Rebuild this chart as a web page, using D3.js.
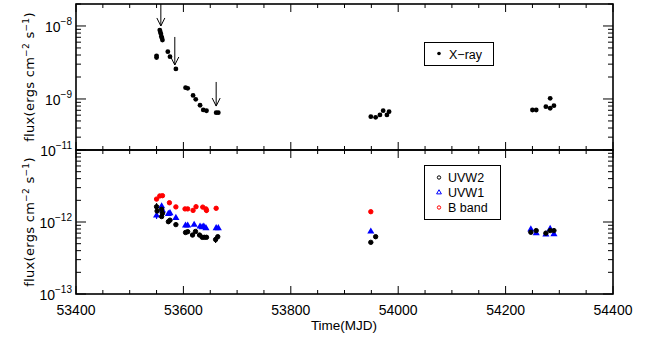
<!DOCTYPE html>
<html><head><meta charset="utf-8">
<script src="https://cdn.jsdelivr.net/npm/d3@7"></script>
<style>body{margin:0;background:#fff}svg{display:block}text{font-family:"Liberation Sans",Arial,sans-serif;fill:#000}</style>
</head><body><svg id="c" width="647" height="337"></svg>
<script>
// ---- data ----
const xTicks = [53400, 53600, 53800, 54000, 54200, 54400];
const xray = [
  [53556,8.8e-9],[53557,8.3e-9],[53558,7.8e-9],[53559,7.2e-9],[53560,6.85e-9],[53561,6.4e-9],
  [53550,3.9e-9],[53550,3.7e-9],[53571,4.45e-9],[53575,3.8e-9],[53586,2.58e-9],
  [53604,1.43e-9],[53608,1.40e-9],[53618,1.12e-9],[53623,9.9e-10],[53631,8.2e-10],
  [53637,7.07e-10],[53643,6.9e-10],[53661,6.5e-10],[53665,6.5e-10],
  [53949,5.73e-10],[53958,5.61e-10],[53966,6.04e-10],[53972,6.92e-10],[53979,6.04e-10],[53983,6.70e-10],
  [54250,7.06e-10],[54257,7.06e-10],[54275,7.85e-10],[54283,1.02e-9],[54283,7.46e-10],[54290,8.09e-10]
];
// [MJD, flux from, flux to] for the downward arrows
const arrows = [[53558,2e-8,1.0e-8],[53584,7.07e-9,2.92e-9],[53661,1.71e-9,8.0e-10]];
// [MJD, flux, error]
const uvw2 = [
  [53550,1.63e-12,0.2e-12],[53551,1.42e-12,0],[53559.5,1.50e-12,0],[53561,1.32e-12,0.1e-12],[53559.5,1.19e-12,0],
  [53572,1.01e-12,0],[53575,1.06e-12,0],[53586,9.2e-13,0],[53604,7.15e-13,0],[53608,7.33e-13,0],
  [53617,6.59e-13,0],[53622.5,7.38e-13,0],[53630,6.59e-13,0],[53635,6.13e-13,0],[53639,6.13e-13,0],
  [53643,6.13e-13,0],[53660,5.71e-13,0.6e-13],[53664,6.25e-13,0],
  [53949,5.22e-13,0],[53958,6.25e-13,0],
  [54247,7.2e-13,0],[54257,7.6e-13,0],[54275,7.0e-13,0],[54283,7.6e-13,0],[54290,7.6e-13,0]
];
const uvw1 = [
  [53550,1.25e-12,0.15e-12],[53559.5,1.68e-12,0],[53561,1.47e-12,0],[53572,1.32e-12,0],[53575,1.35e-12,0],
  [53586,1.16e-12,0],[53604,9.08e-13,0],[53608,9.08e-13,0],[53620,9.29e-13,0],[53631,8.8e-13,0],
  [53635,8.6e-13,0],[53638,8.8e-13,0],[53642,8.33e-13,0],[53661,8.33e-13,0],[53665,8.33e-13,0],
  [53949,7.5e-13,0],
  [54247,8.0e-13,0],[54257,7.1e-13,0],[54275,6.8e-13,0],[54283,8.17e-13,0],[54290,6.9e-13,0]
];
const bband = [
  [53550,2.08e-12,0],[53556,2.30e-12,0],[53561,2.32e-12,0],[53574,1.85e-12,0],[53586,1.62e-12,0],
  [53603,1.52e-12,0],[53608,1.52e-12,0],[53618,1.45e-12,0],[53623.5,1.63e-12,0],[53636,1.61e-12,0],
  [53642,1.52e-12,0],[53643,1.45e-12,0.12e-12],[53661,1.55e-12,0],
  [53949,1.39e-12,0]
];
const legendTop = ["X\u2212ray"];
const legendBottom = ["UVW2","UVW1","B band"];

// ---- layout ----
const svg = d3.select("#c");
const L = 76, R = 613;
const top1 = 4, bot1 = 150, top2 = 150, bot2 = 294;
const x = d3.scaleLinear().domain([53400,54400]).range([L,R]);
const y1 = d3.scaleLog().domain([2e-10,2e-8]).range([bot1,top1]);
const y2 = d3.scaleLog().domain([1e-13,1e-11]).range([bot2,top2]);
const sup = {"-8":"\u22128","-9":"\u22129","-11":"\u221211","-12":"\u221212","-13":"\u221213"};

function logTicks(dom){
  const out=[]; const lo=Math.floor(Math.log10(dom[0])), hi=Math.ceil(Math.log10(dom[1]));
  for(let e=lo;e<=hi;e++) for(let m=1;m<10;m++){const v=m*Math.pow(10,e); if(v>=dom[0]*0.999&&v<=dom[1]*1.001) out.push({v,major:m===1,e});}
  return out;
}
function panel(y, top, bot, majors){
  const g = svg.append("g");
  const xt = d3.range(53400,54401,50);
  xt.forEach(t=>{
    const len = (t%200===0)?8:4;
    const px = x(t);
    g.append("line").attr("x1",px).attr("x2",px).attr("y1",bot).attr("y2",bot-len).attr("stroke","#000").attr("stroke-width",1);
    g.append("line").attr("x1",px).attr("x2",px).attr("y1",top).attr("y2",top+len).attr("stroke","#000").attr("stroke-width",1);
  });
  logTicks(y.domain()).forEach(t=>{
    const len = t.major?10:5; const py=y(t.v);
    g.append("line").attr("x1",L).attr("x2",L+len).attr("y1",py).attr("y2",py).attr("stroke","#000").attr("stroke-width",1);
    g.append("line").attr("x1",R).attr("x2",R-len).attr("y1",py).attr("y2",py).attr("stroke","#000").attr("stroke-width",1);
  });
  majors.forEach(e=>{
    const py=y(Math.pow(10,e));
    const t=g.append("text").attr("x",72).attr("y",py+6).attr("text-anchor","end").style("font-size","14px").text("10");
    t.append("tspan").attr("dy",-7).style("font-size","10px").text(sup[String(e)]);
  });
  g.append("rect").attr("x",L).attr("y",top).attr("width",R-L).attr("height",bot-top)
   .attr("fill","none").attr("stroke","#000").attr("stroke-width",1.6);
  const lab = g.append("text").attr("transform",`translate(34,${(top+bot)/2}) rotate(-90)`)
   .attr("text-anchor","middle").style("font-size","13px").style("font-family","'DejaVu Sans',sans-serif").style("letter-spacing","0.3px");
  lab.append("tspan").text("flux(ergs cm");
  lab.append("tspan").attr("dy",-5).style("font-size","9px").text("\u22122");
  lab.append("tspan").attr("dy",5).text("  s");
  lab.append("tspan").attr("dy",-5).style("font-size","9px").text("\u22121");
  lab.append("tspan").attr("dy",5).text(")");
}
panel(y1, top1, bot1, [-8,-9]);
panel(y2, top2, bot2, [-11,-12,-13]);

xTicks.forEach(t=>{
  svg.append("text").attr("x",x(t)).attr("y",315).attr("text-anchor","middle").style("font-size","14px").text(t);
});
svg.append("text").attr("x",344).attr("y",330).attr("text-anchor","middle").style("font-size","13.5px").text("Time(MJD)");

svg.append("g").selectAll("circle").data(xray).join("circle")
  .attr("cx",d=>x(d[0])).attr("cy",d=>y1(d[1])).attr("r",2.4).attr("fill","#000");
arrows.forEach(a=>{
  const px=x(a[0]), ya=y1(a[1]), yb=y1(a[2]);
  svg.append("line").attr("x1",px).attr("x2",px).attr("y1",ya).attr("y2",yb).attr("stroke","#000").attr("stroke-width",1);
  svg.append("path").attr("d",`M${px-4},${yb-8}L${px},${yb}L${px+4},${yb-8}`).attr("fill","none").attr("stroke","#000").attr("stroke-width",1);
});

function errbars(data,color){
  svg.append("g").selectAll("line").data(data.filter(d=>d[2]>0)).join("line")
   .attr("x1",d=>x(d[0])).attr("x2",d=>x(d[0])).attr("y1",d=>y2(d[1]+d[2])).attr("y2",d=>y2(d[1]-d[2]))
   .attr("stroke",color).attr("stroke-width",1.2);
}
errbars(bband,"#ff0000"); errbars(uvw1,"#0000ff"); errbars(uvw2,"#000");
svg.append("g").selectAll("circle").data(bband).join("circle")
  .attr("cx",d=>x(d[0])).attr("cy",d=>y2(d[1])).attr("r",2.2).attr("fill","#ff0000").attr("stroke","#ff0000").attr("stroke-width",1);
const tri = d3.symbol().type(d3.symbolTriangle).size(22);
svg.append("g").selectAll("path").data(uvw1).join("path")
  .attr("transform",d=>`translate(${x(d[0])},${y2(d[1])+0.5})`).attr("d",tri).attr("fill","#0000ff");
svg.append("g").selectAll("circle").data(uvw2).join("circle")
  .attr("cx",d=>x(d[0])).attr("cy",d=>y2(d[1])).attr("r",2.2).attr("fill","#000").attr("stroke","#000").attr("stroke-width",1);

const lg1 = svg.append("g");
lg1.append("rect").attr("x",424.5).attr("y",42.5).attr("width",69).attr("height",23).attr("fill","#fff").attr("stroke","#000").attr("stroke-width",1);
lg1.append("circle").attr("cx",439).attr("cy",53.5).attr("r",1.8).attr("fill","#000");
lg1.append("text").attr("x",449).attr("y",58.5).style("font-size","12.5px").text(legendTop[0]);

const lg2 = svg.append("g");
lg2.append("rect").attr("x",424.5).attr("y",165.5).attr("width",76).attr("height",54).attr("fill","#fff").attr("stroke","#000").attr("stroke-width",1);
const lcol = ["#000","#0000ff","#ff0000"];
legendBottom.forEach((s,i)=>{
  const cy = 177.5 + i*15;
  if(i===1){
    lg2.append("path").attr("transform",`translate(439,${cy})`).attr("d",d3.symbol().type(d3.symbolTriangle).size(10)).attr("fill","none").attr("stroke",lcol[i]).attr("stroke-width",1);
  } else {
    lg2.append("circle").attr("cx",439).attr("cy",cy).attr("r",1.7).attr("fill","none").attr("stroke",lcol[i]).attr("stroke-width",1);
  }
  lg2.append("text").attr("x",448).attr("y",cy+4.5).style("font-size","12.5px").text(s);
});
</script></body></html>
